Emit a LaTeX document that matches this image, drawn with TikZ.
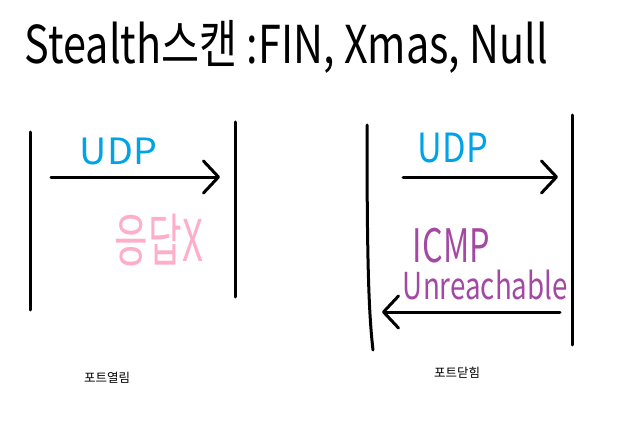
\documentclass[tikz,border=0pt]{standalone}
\usepackage{fontspec}
\setmainfont{Noto Sans CJK KR}
\usetikzlibrary{arrows.meta}
\definecolor{pblue}{HTML}{00A2E8}
\definecolor{ppink}{HTML}{FFAEC9}
\definecolor{ppurple}{HTML}{A349A4}
\tikzset{
  wall/.style={line width=3pt, line cap=round, line join=round, black},
  msg/.style={line width=3pt, line cap=round, line join=round, black,
    -{Straight Barb[length=15pt,width=32pt,round]}},
  lbl/.style={inner sep=0pt, anchor=center},
  portlbl/.style={inner sep=0pt, anchor=center, font=\fontsize{12.5}{14}\selectfont}
}
\begin{document}
\begin{tikzpicture}[x=1pt,y=-1pt]
\useasboundingbox[fill=white] (0,0) rectangle (638,436);
% title
\node[lbl] (title) at (286.5,46.5) {\resizebox*{523pt}{53pt}{Stealth스캔 :FIN, Xmas, Null}};
% left diagram
\coordinate (L1t) at (30,132);
\coordinate (L1b) at (30,310);
\coordinate (R1t) at (235,122);
\coordinate (R1b) at (235,297);
\draw[wall] (L1t) -- (L1b);
\draw[wall] (R1t) -- (R1b);
\coordinate (a1s) at (51,177);
\coordinate (a1e) at (220,177);
\draw[msg] (a1s) -- (a1e);
\node[lbl, text=pblue] (udp1) at (118.5,151) {\resizebox*{77pt}{27pt}{UDP}};
\node[lbl, text=ppink] (resp) at (159,240) {\resizebox*{88pt}{52pt}{응답X}};
\node[portlbl] (open) at (107,378) {포트열림};
% right diagram
\coordinate (L2t) at (367,125);
\coordinate (L2b) at (373,350);
\coordinate (R2t) at (572,115);
\coordinate (R2b) at (572,345);
\draw[wall] (L2t) .. controls (367,270) and (369,315) .. (L2b);
\draw[wall] (R2t) -- (R2b);
\coordinate (a2s) at (403,177);
\coordinate (a2e) at (558,177);
\draw[msg] (a2s) -- (a2e);
\coordinate (a3s) at (560,312);
\coordinate (a3e) at (382,312);
\draw[msg] (a3s) -- (a3e);
\node[lbl, text=pblue] (udp2) at (453,148) {\resizebox*{70pt}{30pt}{UDP}};
\node[lbl, text=ppurple] (icmp) at (451.5,245.5) {\resizebox*{77pt}{35pt}{ICMP}};
\node[lbl, text=ppurple] (unr) at (485.5,285) {\resizebox*{165pt}{30pt}{Unreachable}};
\node[portlbl] (closed) at (457,373) {포트닫힘};
\end{tikzpicture}
\end{document}
